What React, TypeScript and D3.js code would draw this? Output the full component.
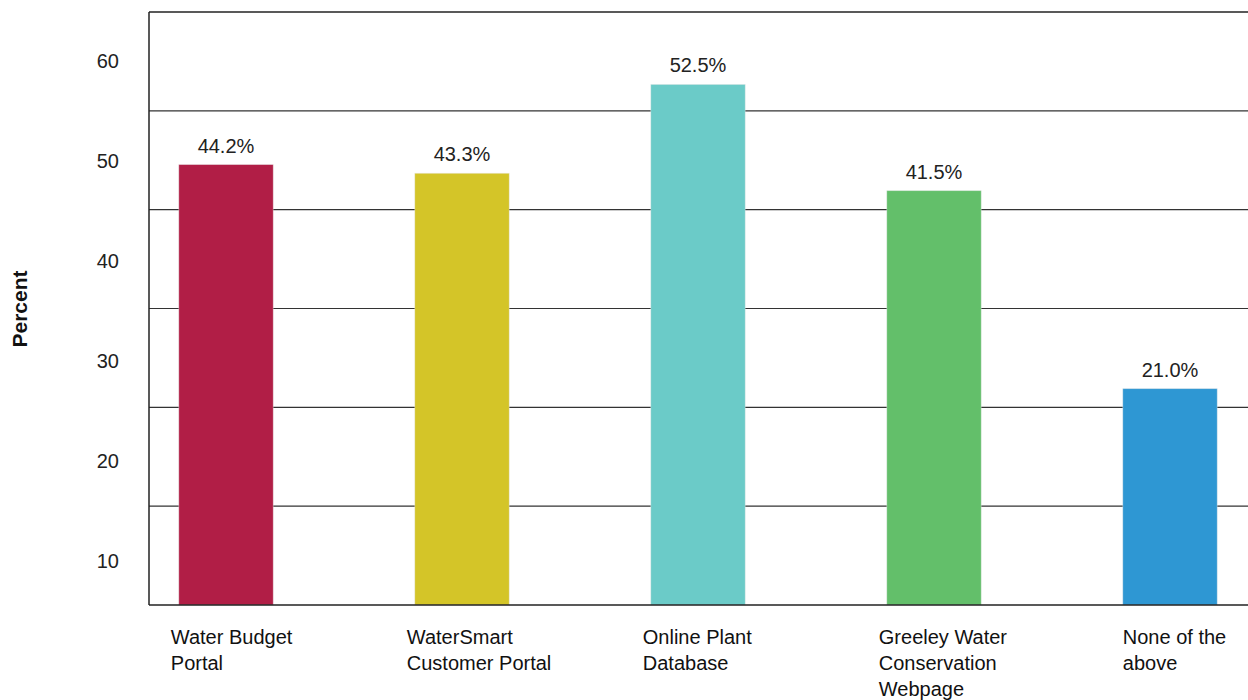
import React from "react";
import * as d3 from "d3";

const categories: string[][] = [
  ["Water Budget", "Portal"],
  ["WaterSmart", "Customer Portal"],
  ["Online Plant", "Database"],
  ["Greeley Water", "Conservation", "Webpage"],
  ["None of the", "above"],
];
const values: number[] = [44.2, 43.3, 52.5, 41.5, 21.0];
const colors: string[] = ["#B11E46", "#D4C528", "#6BCBC8", "#63BF6A", "#2E97D3"];
const tickLabels: number[] = [60, 50, 40, 30, 20, 10];
const gridCount = 6;

const W = 1248;
const H = 700;
const FONT = "'Liberation Sans', Arial, sans-serif";

export default function App() {
  const left = 149;
  const top = 12;
  const bottom = 605;

  const keys = categories.map((c) => c.join(" "));
  const x = d3
    .scaleBand<string>()
    .domain(keys)
    .range([108, 1288])
    .paddingInner(0.6)
    .paddingOuter(0.3);
  const y = d3.scaleLinear().domain([-1.4, 60]).range([bottom, top]);
  const grid = d3.scaleLinear().domain([0, gridCount]).range([bottom, top]);
  const tickY = d3.scaleLinear().domain([60, 10]).range([61, 561]);

  return (
    <svg
      width={W}
      height={H}
      style={{ position: "absolute", left: 0, top: 0, background: "#fff" }}
    >
      {d3.range(1, gridCount).map((i) => (
        <line
          key={i}
          x1={left}
          x2={W}
          y1={grid(i)}
          y2={grid(i)}
          stroke="#333"
          strokeWidth={1.2}
        />
      ))}
      {values.map((v, i) => {
        const bx = x(keys[i])!;
        return (
          <g key={keys[i]}>
            <rect
              x={bx}
              y={y(v)}
              width={x.bandwidth()}
              height={bottom - y(v)}
              fill={colors[i]}
              stroke="#e8e8e8"
              strokeOpacity={0.5}
              strokeWidth={0.8}
            />
            <text
              x={bx + x.bandwidth() / 2}
              y={y(v) - 12}
              textAnchor="middle"
              fontFamily={FONT}
              fontSize={20}
              fill="#222"
            >
              {v.toFixed(1)}%
            </text>
            {categories[i].map((line, j) => (
              <text
                key={j}
                x={bx - (i === categories.length - 1 ? 0 : 8)}
                y={644 + j * 26}
                fontFamily={FONT}
                fontSize={20}
                fill="#111"
              >
                {line}
              </text>
            ))}
          </g>
        );
      })}
      <line x1={left} x2={W} y1={top} y2={top} stroke="#222" strokeWidth={1.5} />
      <line x1={left} x2={W} y1={bottom} y2={bottom} stroke="#222" strokeWidth={1.5} />
      <line x1={left} x2={left} y1={top} y2={bottom} stroke="#222" strokeWidth={1.5} />
      {tickLabels.map((t) => (
        <text
          key={t}
          x={119}
          y={tickY(t)}
          dy="0.35em"
          textAnchor="end"
          fontFamily={FONT}
          fontSize={20}
          fill="#222"
        >
          {t}
        </text>
      ))}
      <text
        transform={`translate(27, 309) rotate(-90)`}
        textAnchor="middle"
        fontFamily={FONT}
        fontSize={21}
        fontWeight="bold"
        fill="#111"
      >
        Percent
      </text>
    </svg>
  );
}
